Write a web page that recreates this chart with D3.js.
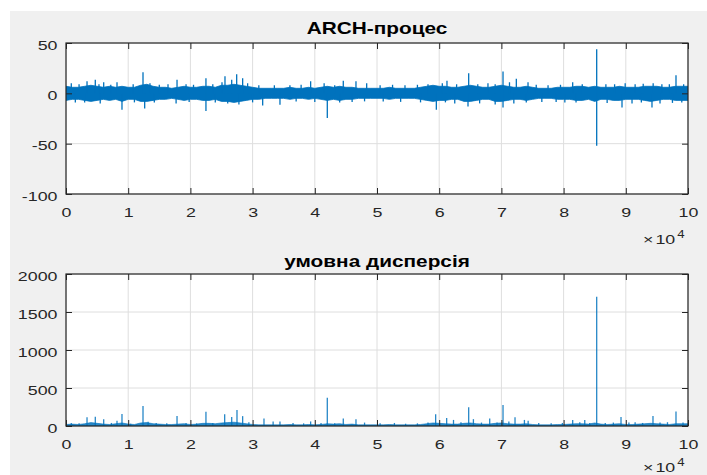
<!DOCTYPE html>
<html>
<head>
<meta charset="utf-8">
<script src="https://cdn.jsdelivr.net/npm/d3@7"></script>
<style>
  html, body { margin: 0; padding: 0; background: #ffffff; }
  svg { display: block; }
  text { font-family: "Liberation Sans", Arial, Helvetica, sans-serif; }
</style>
</head>
<body>
<svg id="fig" width="707" height="475"></svg>
<script>
// ---- data -------------------------------------------------------------
// Sample index axis (0 … 100000), envelope values stored every 1000 samples.
const sampleStep = 1000;
const xTicks = [0, 10000, 20000, 30000, 40000, 50000, 60000, 70000, 80000, 90000, 100000];
const xTickLabels = ["0", "1", "2", "3", "4", "5", "6", "7", "8", "9", "10"];

// ARCH process: upper / lower edge of the dense band
const archHigh = [
  7, 6, 6, 7, 8, 7, 6, 7, 6, 7,
  6, 6, 8, 9, 7, 6, 6, 5, 6, 7,
  6, 6, 7, 7, 6, 8, 8, 9, 8, 7,
  6, 5, 5, 5, 5, 5, 6, 5, 5, 6,
  5, 6, 7, 6, 7, 6, 6, 5, 5, 5,
  5, 5, 6, 5, 5, 5, 5, 6, 7, 8,
  7, 7, 6, 6, 7, 8, 7, 6, 6, 7,
  8, 7, 6, 6, 7, 6, 5, 5, 5, 6,
  6, 6, 7, 7, 6, 7, 6, 6, 6, 7,
  6, 6, 6, 7, 7, 7, 6, 6, 7, 7, 7
];
const archLow = [
  -7, -6, -6, -7, -8, -7, -6, -7, -6, -8,
  -6, -6, -8, -8, -7, -6, -6, -5, -6, -7,
  -6, -6, -7, -7, -6, -8, -8, -9, -8, -7,
  -6, -6, -5, -5, -5, -5, -6, -5, -5, -6,
  -5, -6, -7, -6, -7, -6, -6, -5, -5, -5,
  -5, -5, -6, -5, -5, -5, -5, -6, -7, -8,
  -7, -7, -6, -6, -8, -8, -7, -6, -6, -8,
  -8, -7, -6, -6, -7, -6, -5, -5, -5, -6,
  -6, -6, -7, -7, -6, -8, -6, -6, -7, -7,
  -6, -6, -6, -7, -8, -7, -6, -6, -7, -7, -7
];
// ARCH process: isolated large excursions (sample index, value)
const archSpikeIdx = [
  850, 2100, 3380, 4710, 5300, 6060, 7200, 8200, 10800, 12380, 13500, 15000, 16400, 17850, 19300,
  20500, 22500, 23600, 25080, 25560, 26640, 27440, 28400, 29200, 31000, 33500, 36000, 37800, 39330,
  41500, 43200, 44580, 46620, 48340, 50500, 52500, 54500, 56500, 58200, 60500, 61250, 62800, 64740,
  66200, 67840, 69000, 70260, 71300, 72400, 74280, 75600, 77500, 79500, 81460, 83000, 85320, 86800,
  88200, 89900, 91500, 92800, 94400, 95800, 97000, 98070, 99300,
  1500, 3000, 5500, 9000, 11000, 12650, 14200, 17700, 19800, 22500, 24000, 26000, 27800, 30000,
  31620, 34400, 37000, 40000, 42010, 44000, 46000, 48000, 51000, 53800, 57000, 59540, 61000, 62500,
  64630, 66500, 69000, 70260, 72000, 74000, 76500, 78800, 80200, 82000, 85320, 87000, 89390, 91000,
  92500, 94210, 95500, 97500, 99000
];
const archSpikeVal = [
  10, 9, 12, 13.5, 9, 11, 8.5, 11, 9, 21, 10, 8.5, 9, 13.5, 9,
  8.5, 15, 9, 11, 17, 13.5, 19, 15, 10, 8, 8, 8, 8.5, 12,
  10, 8, 12.5, 12, 10, 8, 8.5, 8, 8.5, 9, 10, 12.5, 9, 20,
  9, 10, 9, 21.8, 11, 14.5, 11, 8.5, 8, 8.5, 11, 9, 43.7, 9,
  9, 10, 9, 9.5, 10, 9, 9, 18, 9,
  -9, -9, -10, -16.3, -9, -15, -9, -10, -8.5, -17.5, -9, -10, -11, -9,
  -12, -11.3, -8, -8.5, -24.5, -9, -8.5, -8, -8, -8.5, -9, -16.3, -9, -10,
  -13, -10, -11, -14, -10, -9, -8.5, -8.5, -9, -9, -52, -9.5, -14, -10,
  -9, -14, -10, -9.5, -9
];

// Conditional variance: upper edge of the low band
const varHigh = [
  20, 25, 20, 30, 45, 35, 25, 20, 30, 40,
  25, 20, 40, 45, 30, 25, 20, 20, 25, 30,
  20, 25, 35, 35, 30, 40, 45, 50, 40, 30,
  20, 15, 15, 15, 15, 15, 20, 15, 15, 20,
  15, 20, 30, 25, 30, 20, 25, 15, 15, 15,
  15, 15, 20, 15, 15, 15, 15, 20, 30, 40,
  35, 30, 25, 25, 35, 40, 30, 25, 25, 35,
  40, 30, 25, 25, 30, 20, 15, 15, 15, 20,
  20, 25, 30, 30, 25, 40, 25, 20, 25, 30,
  20, 20, 25, 30, 35, 30, 25, 20, 30, 30, 30
];
// Conditional variance: peaks (sample index, value)
const varSpikeIdx = [
  850, 2100, 3380, 4710, 6060, 7300, 8200, 9000, 10400, 12380, 13200, 14500, 16200, 17850, 19300,
  21000, 22500, 23600, 25510, 26640, 27490, 28400, 29400, 31830, 33300, 34400, 36500, 38200, 39330,
  41000, 42010, 43200, 44580, 46620, 48000, 50500, 52800, 54600, 56500, 58200, 59430, 61200, 62300,
  63500, 64740, 65500, 66800, 68120, 69300, 70260, 71200, 72190, 73700, 74300, 76000, 78000, 79800,
  81460, 82600, 83400, 84200, 85320, 86700, 88000, 89230, 90500, 91500, 92700, 94370, 95500, 96700,
  98070, 99200
];
const varSpikeVal = [
  40, 35, 115, 122, 90, 40, 70, 158, 30, 262, 55, 40, 35, 130, 40,
  35, 188, 40, 154, 120, 210, 130, 50, 100, 60, 60, 40, 35, 60,
  40, 372, 35, 100, 90, 45, 35, 40, 30, 35, 45, 154, 105, 80,
  50, 246, 90, 45, 100, 45, 276, 60, 115, 80, 70, 40, 35, 40,
  80, 50, 80, 40, 1700, 40, 45, 120, 45, 50, 40, 130, 45, 50,
  190, 45
];

const archYTicks = [-100, -50, 0, 50];
const varYTicks = [0, 500, 1000, 1500, 2000];

// ---- drawing ----------------------------------------------------------
const lineColor = "#0072BD";
const axisColor = "#262626";
const gridColor = "#dedede";
const tickFont = 13.5, tickStretch = 1.32;

const svg = d3.select("#fig");

// figure background
svg.append("rect").attr("x", 10).attr("y", 11).attr("width", 697).attr("height", 464)
  .attr("fill", "#f0f0f0");

function drawPanel(cfg) {
  const { left, right, top, bottom, yDomain, yTicks, title, titleBaseline, titleStretch,
          expBaseline, id } = cfg;
  const x = d3.scaleLinear().domain([0, 100000]).range([left, right]);
  const y = d3.scaleLinear().domain(yDomain).range([bottom, top]);
  const g = svg.append("g");

  g.append("rect").attr("x", left).attr("y", top)
    .attr("width", right - left).attr("height", bottom - top).attr("fill", "#ffffff");

  g.append("clipPath").attr("id", id).append("rect")
    .attr("x", left).attr("y", top).attr("width", right - left).attr("height", bottom - top);

  // grid
  g.append("g").selectAll("line").data(xTicks).join("line")
    .attr("x1", d => x(d)).attr("x2", d => x(d)).attr("y1", top).attr("y2", bottom)
    .attr("stroke", gridColor).attr("stroke-width", 1);
  g.append("g").selectAll("line").data(yTicks).join("line")
    .attr("x1", left).attr("x2", right).attr("y1", d => y(d)).attr("y2", d => y(d))
    .attr("stroke", gridColor).attr("stroke-width", 1);

  const dataG = g.append("g").attr("clip-path", `url(#${id})`);
  cfg.drawData(dataG, x, y);

  // box
  g.append("rect").attr("x", left).attr("y", top)
    .attr("width", right - left).attr("height", bottom - top)
    .attr("fill", "none").attr("stroke", axisColor).attr("stroke-width", 1.2);

  // axes: labelled left / bottom, unlabelled right / top, ticks pointing inward
  const axB = g.append("g").attr("transform", `translate(0,${bottom})`)
    .call(d3.axisBottom(x).tickValues(xTicks).tickFormat((d, i) => xTickLabels[i])
      .tickSizeInner(-6).tickSizeOuter(0));
  const axL = g.append("g").attr("transform", `translate(${left},0)`)
    .call(d3.axisLeft(y).tickValues(yTicks).tickFormat(d => String(d))
      .tickSizeInner(-6).tickSizeOuter(0));
  g.append("g").attr("transform", `translate(0,${top})`)
    .call(d3.axisTop(x).tickValues(xTicks).tickFormat("").tickSizeInner(-6).tickSizeOuter(0));
  g.append("g").attr("transform", `translate(${right},0)`)
    .call(d3.axisRight(y).tickValues(yTicks).tickFormat("").tickSizeInner(-6).tickSizeOuter(0));

  g.selectAll(".domain").remove();
  g.selectAll(".tick line").attr("stroke", axisColor).attr("stroke-width", 1);

  axB.selectAll("text")
    .attr("y", 0).attr("dy", null)
    .attr("transform", `translate(0,23) scale(${tickStretch},1)`)
    .attr("fill", axisColor).attr("font-size", tickFont).attr("font-family", null);
  axL.selectAll("text")
    .attr("x", 0).attr("dy", null)
    .attr("transform", `translate(-8.5,6) scale(${tickStretch},1)`)
    .attr("fill", axisColor).attr("font-size", tickFont).attr("font-family", null);

  // exponent label of the x axis
  const ex = g.append("text")
    .attr("transform", `translate(643,${expBaseline}) scale(${tickStretch},1)`)
    .attr("fill", axisColor).attr("font-size", tickFont);
  ex.append("tspan").text("×");
  ex.append("tspan").attr("dx", 1.5).text("10");
  ex.append("tspan").attr("dx", 1.5).attr("dy", -6).attr("font-size", 10).text("4");

  // title
  g.append("text")
    .attr("transform", `translate(${(left + right) / 2},${titleBaseline}) scale(${titleStretch},1)`)
    .attr("text-anchor", "middle").attr("font-weight", "bold").attr("font-size", 16)
    .attr("fill", "#000000").text(title);
}

// ARCH process panel
drawPanel({
  id: "clipArch", left: 66, right: 688, top: 43, bottom: 194,
  yDomain: [-100, 50], yTicks: archYTicks,
  title: "ARCH-процес", titleBaseline: 34, titleStretch: 1.3, expBaseline: 244,
  drawData(g, x, y) {
    const band = archHigh.map((h, i) => ({ i: i * sampleStep, hi: h, lo: archLow[i] }));
    g.append("path").datum(band)
      .attr("d", d3.area().x(d => x(d.i)).y0(d => y(d.lo)).y1(d => y(d.hi)))
      .attr("fill", lineColor).attr("stroke", lineColor).attr("stroke-width", 0.8);
    g.append("g").selectAll("line").data(archSpikeIdx).join("line")
      .attr("x1", d => x(d)).attr("x2", d => x(d))
      .attr("y1", y(0)).attr("y2", (d, i) => y(archSpikeVal[i]))
      .attr("stroke", lineColor).attr("stroke-width", 1.3);
  }
});

// Conditional variance panel
drawPanel({
  id: "clipVar", left: 66, right: 688, top: 274, bottom: 426,
  yDomain: [0, 2000], yTicks: varYTicks,
  title: "умовна дисперсія", titleBaseline: 266.5, titleStretch: 1.3, expBaseline: 472,
  drawData(g, x, y) {
    const band = varHigh.map((h, i) => ({ i: i * sampleStep, hi: h }));
    g.append("path").datum(band)
      .attr("d", d3.area().x(d => x(d.i)).y0(y(0)).y1(d => y(d.hi)))
      .attr("fill", lineColor).attr("fill-opacity", 0.85)
      .attr("stroke", lineColor).attr("stroke-width", 0.6);
    g.append("g").selectAll("line").data(varSpikeIdx).join("line")
      .attr("x1", d => x(d)).attr("x2", d => x(d))
      .attr("y1", y(0)).attr("y2", (d, i) => y(varSpikeVal[i]))
      .attr("stroke", lineColor).attr("stroke-opacity", 0.85).attr("stroke-width", 1.3);
  }
});
</script>
</body>
</html>
